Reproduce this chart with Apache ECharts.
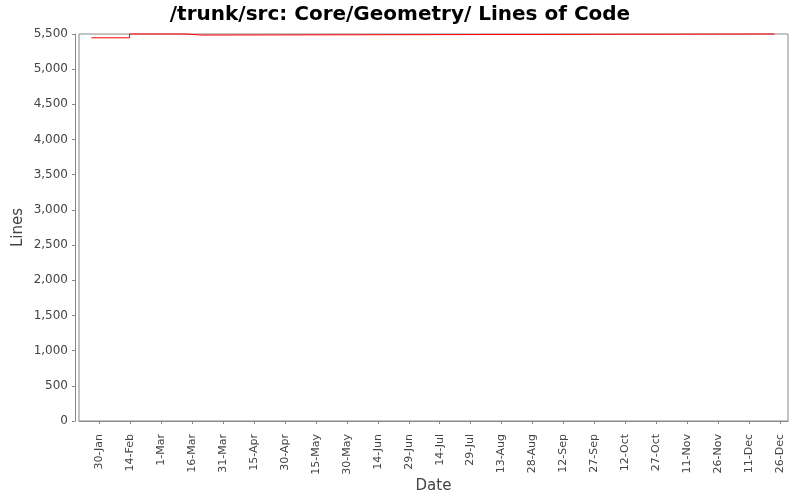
<!DOCTYPE html>
<html>
<head>
<meta charset="utf-8">
<script src="https://cdn.jsdelivr.net/npm/echarts@6/dist/echarts.min.js"></script>
<style>
  html, body { margin: 0; padding: 0; background: #fff; }
  #chart { width: 800px; height: 500px; }
</style>
</head>
<body>
<div id="chart"></div>
<script>
// x values are day of the year (1 = 1-Jan, non-leap year)
const dayOfYear = [26, 44.5, 71.5, 79.5, 357.5]
const lines = [5446, 5500, 5485, 5500, 5500]

const tickDays = [30, 45, 60, 75, 90, 105, 120, 135, 150, 165, 180, 195, 210, 225, 240, 255, 270, 285, 300, 315, 330, 345, 360]
const tickLabels = ['30-Jan', '14-Feb', '1-Mar', '16-Mar', '31-Mar', '15-Apr', '30-Apr', '15-May', '30-May', '14-Jun', '29-Jun',
    '14-Jul', '29-Jul', '13-Aug', '28-Aug', '12-Sep', '27-Sep', '12-Oct', '27-Oct', '11-Nov', '26-Nov', '11-Dec', '26-Dec']

let points = []
dayOfYear.forEach((d, i) => {
    points.push([d, lines[i]])
})

const font = 'DejaVu Sans'
let myChart = echarts.init(document.getElementById('chart'))
let option = {
    animation: false,
    backgroundColor: '#fff',
    title: {
        text: '/trunk/src: Core/Geometry/ Lines of Code',
        left: 'center',
        top: 0,
        textStyle: { fontFamily: font, fontSize: 20, fontWeight: 'bold', color: '#000' }
    },
    grid: {
        left: 79, right: 12, top: 34, bottom: 79,
        show: true, borderColor: '#888', borderWidth: 1, backgroundColor: '#fff'
    },
    xAxis: {
        type: 'value',
        min: 20,
        max: 364,
        offset: 4,
        name: 'Date',
        nameLocation: 'middle',
        nameGap: 54,
        nameMoveOverlap: false,
        nameTextStyle: { fontFamily: font, fontSize: 15, color: '#444' },
        axisLine: { show: true, lineStyle: { color: '#888' } },
        axisTick: { show: true, length: 3, customValues: tickDays, lineStyle: { color: '#888' } },
        axisLabel: {
            customValues: tickDays,
            rotate: 90,
            margin: 9,
            fontFamily: font,
            fontSize: 11,
            color: '#444',
            formatter: v => tickLabels[tickDays.indexOf(v)] || ''
        },
        splitLine: { show: false }
    },
    yAxis: {
        type: 'value',
        min: 0,
        max: 5500,
        interval: 500,
        offset: 4,
        name: 'Lines',
        nameLocation: 'middle',
        nameGap: 49,
        nameMoveOverlap: false,
        nameTextStyle: { fontFamily: font, fontSize: 15, color: '#444' },
        axisLine: { show: true, lineStyle: { color: '#888' } },
        axisTick: { show: true, length: 3, lineStyle: { color: '#888' } },
        axisLabel: {
            fontFamily: font,
            fontSize: 12,
            color: '#444',
            margin: 7,
            formatter: v => v.toLocaleString('en-US')
        },
        splitLine: { show: false }
    },
    series: [{
        name: 'Lines',
        type: 'line',
        step: 'end',
        data: points,
        symbol: 'none',
        clip: false,
        lineStyle: { color: '#ff0000', width: 1 }
    }]
}
myChart.setOption(option)
</script>
</body>
</html>
